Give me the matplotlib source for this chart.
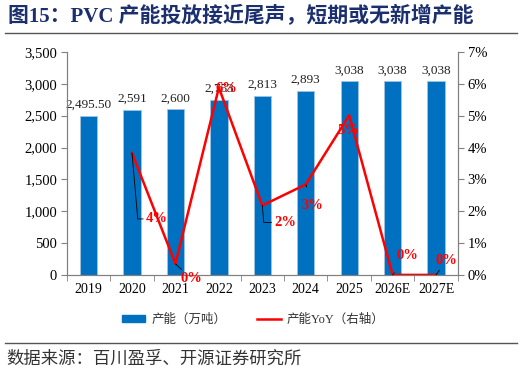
import numpy as np
import matplotlib.pyplot as plt
from matplotlib.lines import Line2D
from matplotlib.patches import Patch

years = ["2019", "2020", "2021", "2022", "2023", "2024", "2025", "2026E", "2027E"]
capacity = [2495.5, 2591, 2600, 2753, 2813, 2893, 3038, 3038, 3038]
cap_labels = ["2,495.50", "2,591", "2,600", "2,753", "2,813", "2,893", "3,038", "3,038", "3,038"]
yoy = [np.nan, 3.83, 0.35, 5.88, 2.18, 2.84, 5.01, 0.0, 0.0]
yoy_labels = ["", "4%", "0%", "6%", "2%", "3%", "5%", "0%", "0%"]
# label offsets (pixels) and leader style for the yoy labels
yoy_offsets = [None, (25, -66), (16, -15), (8, -1), (23, -17), (7, -21), (-1, -15), (15, 19), (10, 14)]
yoy_leader = [None, "elbow", "line", None, "elbow", "line", None, "line", "line"]

serif = "Liberation Serif"
cjk = ["Liberation Serif", "Noto Sans CJK SC"]
bar_color = "#0070C0"
red = "#FF0000"
grey = "#808080"

fig = plt.figure(figsize=(5.22, 3.74), dpi=100)
ax = fig.add_axes([0.128, 0.265, 0.749, 0.596])
ax2 = ax.twinx()

x = np.arange(len(years))
ax.bar(x, capacity, width=0.4, color=bar_color, edgecolor="#9DC3E6", linewidth=0.6, zorder=2)
for xi, v, lab in zip(x, capacity, cap_labels):
    ax.annotate(lab, (xi, v), xytext=(0, 11), textcoords="offset pixels",
                ha="center", va="center", fontsize=9.5, family=serif, color="#222222")

ax.set_xlim(-0.5, len(years) - 0.5)
ax.set_ylim(0, 3500)
ax.set_yticks(np.arange(0, 3501, 500))
ax.set_yticklabels([f"{v:,}" for v in range(0, 3501, 500)], family=serif, fontsize=10.5)
ax.set_xticks(x)
ax.set_xticklabels(years, family=serif, fontsize=10)
ax.set_xticks(np.arange(-0.5, len(years), 1), minor=True)
ax.tick_params(axis="x", which="major", length=0, pad=6)
ax.tick_params(axis="x", which="minor", length=4, color=grey, direction="out")
ax.tick_params(axis="y", length=4, color=grey, direction="out", pad=3)

ax2.plot(x, yoy, color=red, lw=1.8, zorder=3)
ax2.set_ylim(0, 7)
ax2.set_yticks(range(0, 8))
ax2.set_yticklabels([f"{v}%" for v in range(0, 8)], family=serif, fontsize=10.5)
ax2.tick_params(axis="y", length=4, color=grey, direction="out", pad=3)

for i in range(len(years)):
    if not yoy_labels[i]:
        continue
    dx, dy = yoy_offsets[i]
    kw = {}
    if yoy_leader[i] == "elbow":
        kw["arrowprops"] = dict(arrowstyle="-", color="black", lw=0.6, shrinkA=0, shrinkB=0,
                                connectionstyle="angle,angleA=0,angleB=95,rad=0")
    elif yoy_leader[i] == "line":
        kw["arrowprops"] = dict(arrowstyle="-", color="black", lw=0.6, shrinkA=7, shrinkB=0)
    ax2.annotate(yoy_labels[i], (x[i], yoy[i]), xytext=(dx, dy), textcoords="offset pixels",
                 ha="center", va="center", fontsize=10.5, family=serif, fontweight="bold",
                 color=red, zorder=4, **kw)

for a in (ax, ax2):
    a.spines["top"].set_visible(False)
    for s in ("left", "right", "bottom"):
        a.spines[s].set_color(grey)
        a.spines[s].set_linewidth(0.8)

handles = [Patch(facecolor=bar_color, edgecolor=bar_color),
           Line2D([0], [0], color=red, lw=1.8)]
fig.legend(handles, ["产能（万吨）", "产能YoY（右轴）"], loc="center", bbox_to_anchor=(0.485, 0.145),
           ncol=2, frameon=False, prop={"family": cjk, "size": 9}, handlelength=1.85,
           handleheight=0.5, columnspacing=2.5, handletextpad=0.5, labelcolor="#333333")

fig.text(0.015, 0.957, "图15：PVC 产能投放接近尾声，短期或无新增产能", family=cjk,
         fontsize=15, fontweight="bold", color="#1B2F6E", ha="left", va="center")
fig.add_artist(Line2D([0.01, 0.99], [0.913, 0.913], color="#555555", lw=1.0))
fig.add_artist(Line2D([0.01, 0.99], [0.083, 0.083], color="#555555", lw=1.0))
fig.text(0.012, 0.04, "数据来源：百川盈孚、开源证券研究所", family=["Noto Sans CJK SC"],
         fontsize=12.5, color="#333333", ha="left", va="center")

fig.savefig("out.png", dpi=100)
